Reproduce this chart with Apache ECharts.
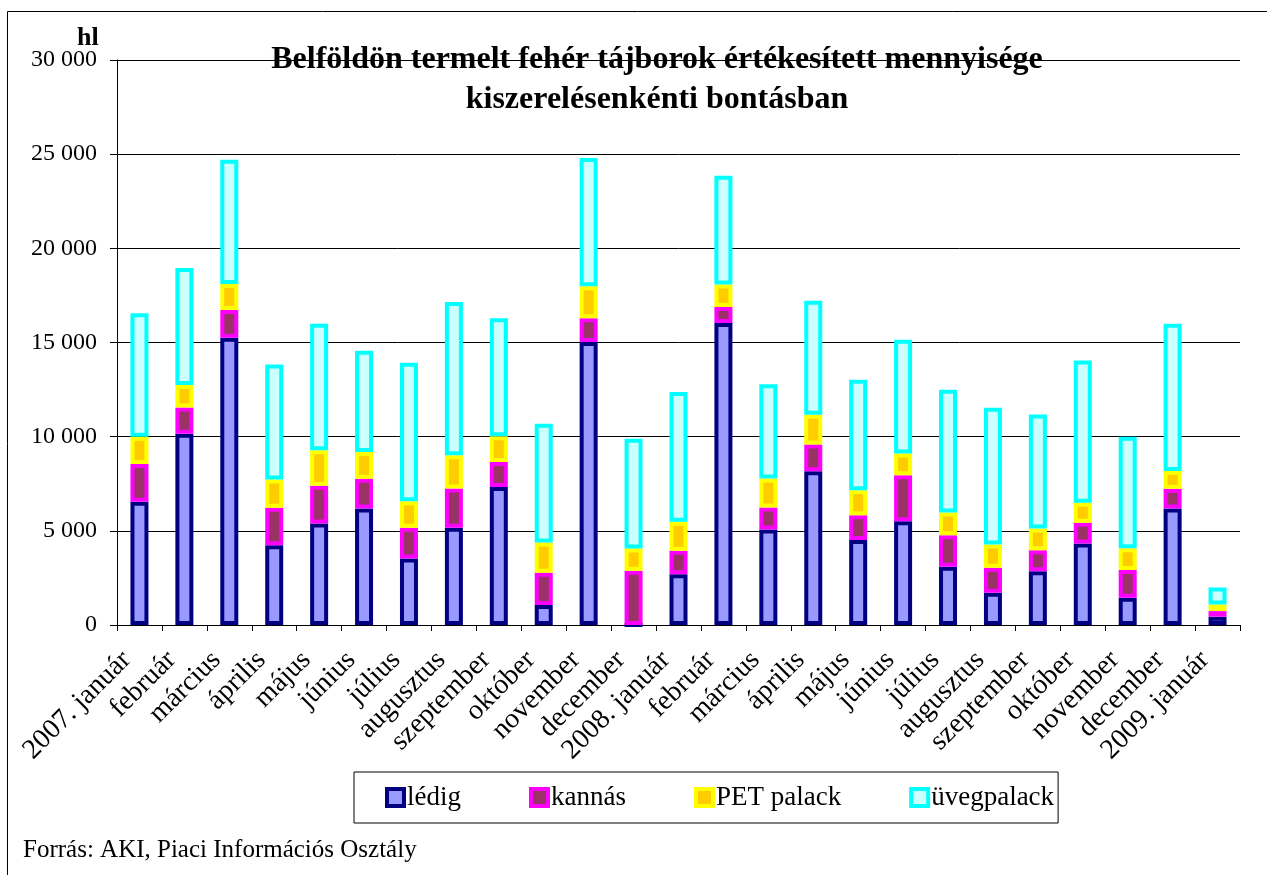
<!DOCTYPE html>
<html>
<head>
<meta charset="utf-8">
<script src="https://cdn.jsdelivr.net/npm/echarts@6/dist/echarts.min.js"></script>
<style>
  html, body { margin: 0; padding: 0; background: #fff; }
  #chart { width: 1267px; height: 875px; }
</style>
</head>
<body>
<div id="chart"></div>
<script>
// hónapok
const months = [
  '2007. január', 'február', 'március', 'április', 'május', 'június', 'július',
  'augusztus', 'szeptember', 'október', 'november', 'december',
  '2008. január', 'február', 'március', 'április', 'május', 'június', 'július',
  'augusztus', 'szeptember', 'október', 'november', 'december', '2009. január'
];
// hl, leolvasott értékek
const ledig = [6550, 10150, 15250, 4240, 5390, 6180, 3530, 5160, 7330, 1060, 15020, 0,
  2690, 16030, 5070, 8160, 4510, 5510, 3090, 1710, 2860, 4330, 1450, 6180, 440];
const kannas = [2000, 1400, 1480, 1980, 2000, 1590, 1630, 2085, 1330, 1710, 1270, 2880,
  1250, 850, 1170, 1430, 1320, 2440, 1680, 1330, 1110, 1100, 1470, 1060, 300];
const petPalack = [1450, 1200, 1380, 1500, 1890, 1410, 1410, 1770, 1360, 1610, 1700, 1180,
  1540, 1200, 1540, 1570, 1330, 1150, 1200, 1240, 1150, 1060, 1150, 940, 350];
const uvegPalack = [6550, 6200, 6600, 6110, 6710, 5380, 7350, 8130, 6270, 6310, 6800, 5830,
  6890, 5780, 5000, 6060, 5860, 6040, 6520, 7250, 6060, 7560, 5920, 7810, 900];
const yTicks = [0, 5000, 10000, 15000, 20000, 25000, 30000];

const font = '"Liberation Serif", "DejaVu Serif", serif';
const chart = echarts.init(document.getElementById('chart'));

// egy sorozat: kitöltés + keret szín
const mkSeries = (name, data, fill, border) => ({
  name: name,
  type: 'bar',
  stack: 'osszes',
  data: data,
  barWidth: 18,
  itemStyle: { color: fill, borderColor: border, borderWidth: 4 },
  emphasis: { disabled: true }
});

const legendItem = (name, fill, border) => ({
  name: name, icon: 'rect',
  itemStyle: { color: fill, borderColor: border, borderWidth: 4 }
});

const option = {
  animation: false,
  title: {
    text: 'Belföldön termelt fehér tájborok értékesített mennyisége\nkiszerelésenkénti bontásban',
    left: 652,
    top: 35,
    textAlign: 'center',
    textStyle: { fontFamily: font, fontWeight: 'bold', fontSize: 32, lineHeight: 40, color: '#000' }
  },
  legend: {
    left: 354,
    top: 772,
    padding: [12, 4, 12, 31],
    itemGap: 68,
    itemWidth: 17,
    itemHeight: 17,
    borderColor: '#000',
    borderWidth: 1,
    selectedMode: false,
    textStyle: { fontFamily: font, fontSize: 27, color: '#000', padding: [0, 0, 0, -2] },
    data: [
      legendItem('lédig', '#9999FF', '#000080'),
      legendItem('kannás', '#993366', '#FF00FF'),
      legendItem('PET palack', '#FFCC00', '#FFFF00'),
      legendItem('üvegpalack', '#CCFFFF', '#00FFFF')
    ]
  },
  grid: { left: 117, right: 27, top: 60, bottom: 250 },
  xAxis: {
    type: 'category',
    data: months,
    axisLine: { lineStyle: { color: '#000', width: 1 } },
    axisTick: { show: true, length: 6, lineStyle: { color: '#000' } },
    axisLabel: {
      rotate: 45, interval: 0, margin: 18, padding: [0, 18, 0, 0],
      fontFamily: font, fontSize: 28, color: '#000'
    }
  },
  yAxis: {
    type: 'value',
    min: yTicks[0],
    max: yTicks[yTicks.length - 1],
    interval: 5000,
    axisLine: { show: true, lineStyle: { color: '#000', width: 1 } },
    axisTick: { show: true, length: 7, lineStyle: { color: '#000' } },
    splitLine: { lineStyle: { color: '#000', width: 1 } },
    axisLabel: {
      margin: 20,
      fontFamily: font,
      fontSize: 24,
      color: '#000',
      formatter: v => String(v).replace(/\B(?=(\d{3})+(?!\d))/g, ' ')
    }
  },
  series: [
    mkSeries('lédig', ledig, '#9999FF', '#000080'),
    mkSeries('kannás', kannas, '#993366', '#FF00FF'),
    mkSeries('PET palack', petPalack, '#FFCC00', '#FFFF00'),
    mkSeries('üvegpalack', uvegPalack, '#CCFFFF', '#00FFFF')
  ],
  graphic: [
    { type: 'line', shape: { x1: 7.5, y1: 11.5, x2: 1267, y2: 11.5 }, style: { stroke: '#000', lineWidth: 1 } },
    { type: 'line', shape: { x1: 7.5, y1: 11.5, x2: 7.5, y2: 875 }, style: { stroke: '#000', lineWidth: 1 } },
    { type: 'text', left: 77, top: 25, style: { text: 'hl', font: 'bold 26px ' + font, fill: '#000' } },
    { type: 'text', left: 23, top: 838, style: { text: 'Forrás: AKI, Piaci Információs Osztály', font: '25px ' + font, fill: '#000' } }
  ]
};
chart.setOption(option);
</script>
</body>
</html>
